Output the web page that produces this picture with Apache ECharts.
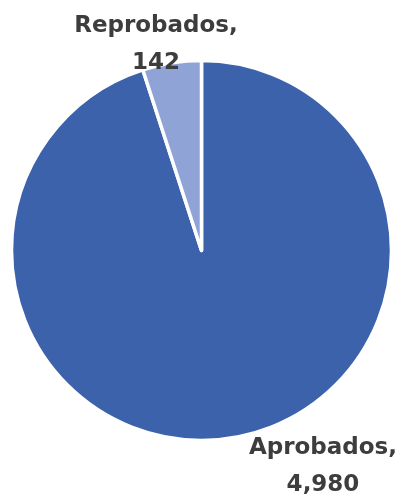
<!DOCTYPE html>
<html><head><meta charset="utf-8">
<script src="https://cdn.jsdelivr.net/npm/echarts@6/dist/echarts.min.js"></script>
<style>html,body{margin:0;padding:0;background:#fff}#c{width:401px;height:500px}</style>
</head><body><div id="c"></div>
<script>
// Labelled counts (as printed on the chart)
var categories = ['Aprobados', 'Reprobados'];
var counts = [4980, 142];
// Slice shares as drawn in the reference picture (percent of the circle).
// NOTE: the reference draws the Reprobados slice at about 18 degrees (~5%),
// but 142 / (4980 + 142) is only ~2.8% (~10 degrees). The slices here follow
// the picture, not the printed counts; use `counts` as values for a true pie.
var shares = [95.0, 5.0];
var colors = ['#3B62AA', '#8FA3D6'];
var labelPos = [[323, 467], [156, 45]];

var chart = echarts.init(document.getElementById('c'), null, {renderer: 'canvas'});
chart.setOption({
  animation: false,
  series: [{
    type: 'pie',
    center: [201.5, 250.5],
    radius: [0, 190],
    startAngle: 90,
    clockwise: true,
    data: categories.map(function (c, i) {
      return {name: c, value: shares[i], itemStyle: {color: colors[i]}};
    }),
    itemStyle: {borderColor: '#fff', borderWidth: 3.5},
    label: {
      show: true,
      position: 'outside',
      formatter: function (p) { return p.name + ',\n' + counts[p.dataIndex].toLocaleString('en-US'); },
      fontFamily: 'DejaVu Sans',
      fontWeight: 'bold',
      fontSize: 23,
      lineHeight: 37,
      color: '#3D3D3D',
      align: 'center',
      overflow: 'none',
      width: 300
    },
    labelLine: {show: false},
    labelLayout: function (p) {
      var pos = labelPos[p.dataIndex];
      return {x: pos[0], y: pos[1], align: 'center', verticalAlign: 'middle'};
    }
  }]
});
</script></body></html>
